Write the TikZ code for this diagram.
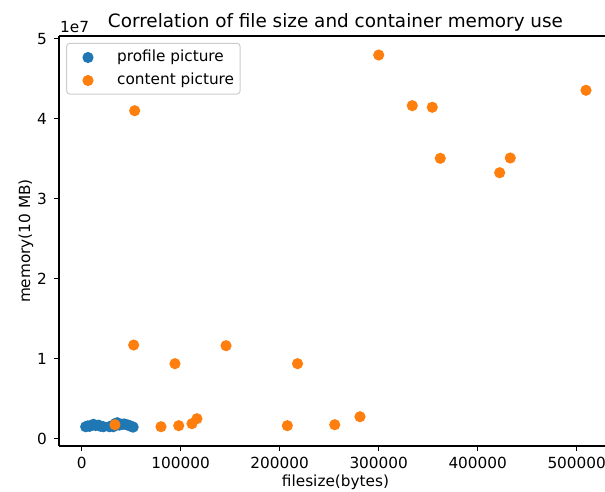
\documentclass[tikz,border=0pt]{standalone}
\usepackage{fontspec}
\setmainfont{DejaVu Sans}
\definecolor{tabblue}{HTML}{1F77B4}
\definecolor{taborange}{HTML}{FF7F0E}
\definecolor{legendedge}{gray}{0.8}
\begin{document}
\begin{tikzpicture}[x=1pt,y=-1pt,
  ticklab/.style={font=\fontsize{15.3}{18}\selectfont, inner sep=0pt},
  axlab/.style={font=\fontsize{15.3}{18}\selectfont, inner sep=0pt},
  spine/.style={line width=1.1pt, black},
  tickmark/.style={line width=1.1pt, black},
  ptblue/.style={fill=tabblue, draw=none},
  ptorange/.style={fill=taborange, draw=none}]
\clip (0,0) rectangle (605,491);
\fill[white] (0,0) rectangle (605,491);

% data area: x in units of 1e5 bytes, y in units of 1e7 bytes
\begin{scope}[shift={(81.7,438.7)}, x=99pt, y=80pt]
  % profile pictures
  \foreach \a/\b in {0.04/0.15,0.06/0.16,0.08/0.155,0.10/0.17,0.12/0.18,0.14/0.165,
                     0.17/0.17,0.19/0.155,0.22/0.15,0.28/0.15,0.30/0.16,0.32/0.15,
                     0.34/0.19,0.36/0.20,0.38/0.17,0.41/0.18,0.43/0.185,0.45/0.175,
                     0.47/0.17,0.49/0.16,0.51/0.15,0.52/0.145}
    \fill[ptblue] (\a,\b) circle[radius=5.6pt];
  % content pictures
  \foreach \a/\b in {3.000/4.796,3.339/4.163,3.541/4.143,3.622/3.505,4.329/3.509,
                     4.222/3.325,5.094/4.355,0.535/4.100,0.525/1.171,0.942/0.938,
                     1.458/1.163,2.180/0.938,0.801/0.150,0.980/0.163,1.114/0.188,
                     1.164/0.250,0.336/0.175,2.077/0.163,2.556/0.175,2.811/0.275}
    \fill[ptorange] (\a,\b) circle[radius=5.6pt];
\end{scope}

% spines
\draw[spine] (59,36) -- (612,36);
\draw[spine] (59,36) -- (59,446);
\draw[spine] (59,446) -- (612,446);
\draw[spine] (612,36) -- (612,446);

% y ticks
\foreach \v in {0,...,5}{
  \draw[tickmark] (54,{438.7-80*\v}) -- (59,{438.7-80*\v});
  \node[ticklab, anchor=east] (yt\v) at (47,{438.7-80*\v}) {\v};
}
% x ticks
\foreach \v/\t in {0/0,1/100000,2/200000,3/300000,4/400000,5/500000}{
  \draw[tickmark] ({81.7+99*\v},446) -- ({81.7+99*\v},451);
  \node[ticklab, anchor=north] (xt\v) at ({81.7+99*\v},457) {\t};
}

% offset text and labels
\node[ticklab, anchor=base west] (offset) at (60,32) {1e7};
\node[font=\fontsize{18.4}{21}\selectfont, inner sep=0pt, anchor=base] (title) at (335.5,27) {Correlation of file size and container memory use};
\node[axlab, anchor=base] (xlabel) at (335.5,486) {filesize(bytes)};
\node[axlab, anchor=base, rotate=90] (ylabel) at (30,241) {memory(10 MB)};

% legend
\filldraw[draw=legendedge, fill=white, fill opacity=0.8, line width=1pt, rounded corners=3pt]
  (66.7,43.3) rectangle (240,94);
\fill[ptblue] (88,57.5) circle[radius=5.6pt];
\fill[ptorange] (88,80.5) circle[radius=5.6pt];
\node[ticklab, anchor=west] (leg1) at (117,57.5) {profile picture};
\node[ticklab, anchor=west] (leg2) at (117,80.5) {content picture};
\end{tikzpicture}
\end{document}
